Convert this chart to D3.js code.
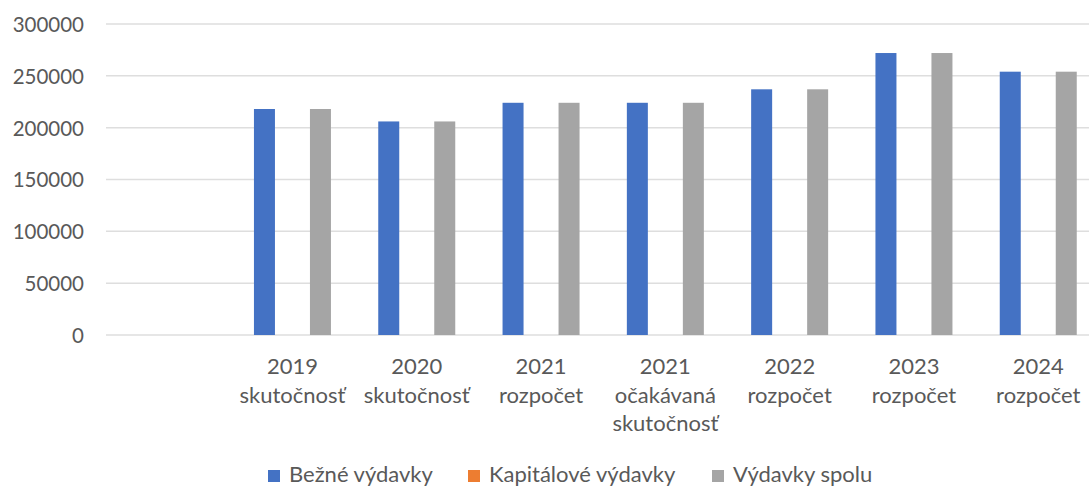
<!DOCTYPE html>
<html>
<head>
<meta charset="utf-8">
<script src="https://cdn.jsdelivr.net/npm/d3@7"></script>
<style>
    body { margin: 0; background: #fff; }
    text { font-family: Lato, "Open Sans", sans-serif; fill: #595959; }
</style>
</head>
<body>
<div id="chart"></div>
<script>
    /**
     * DATA
     * */
    const categories = [
        [""],
        ["2019", "skutočnosť"],
        ["2020", "skutočnosť"],
        ["2021", "rozpočet"],
        ["2021", "očakávaná", "skutočnosť"],
        ["2022", "rozpočet"],
        ["2023", "rozpočet"],
        ["2024", "rozpočet"]
    ];
    const seriesNames = ["Bežné výdavky", "Kapitálové výdavky", "Výdavky spolu"];
    const bezneVydavky = [null, 218000, 206000, 224000, 224000, 237000, 272000, 254000];
    const kapitaloveVydavky = [null, 0, 0, 0, 0, 0, 0, 0];
    const vydavkySpolu = [null, 218000, 206000, 224000, 224000, 237000, 272000, 254000];
    const yTicks = [0, 50000, 100000, 150000, 200000, 250000, 300000];

    /**
     * CONSTANTS AND GLOBALS
     * */
    const width = 1089, height = 488,
        margin = { top: 24, left: 106, bottom: 153 },
        step = 124.3,
        colors = ["#4472C4", "#ED7D31", "#A5A5A5"];

    const seriesValues = [bezneVydavky, kapitaloveVydavky, vydavkySpolu];

    const svg = d3.select("#chart")
        .append("svg")
        .attr("width", width)
        .attr("height", height);

    //Scales
    const xscale = d3.scaleBand()
        .domain(d3.range(categories.length))
        .range([margin.left, margin.left + step * categories.length])
        .padding(0);

    const bw = xscale.bandwidth();
    const xsub = d3.scaleBand()
        .domain(seriesNames)
        .range([bw / 2 - 42, bw / 2 + 42])
        .paddingInner(0.25)
        .paddingOuter(0.125);

    const yscale = d3.scaleLinear()
        .domain([0, 300000])
        .range([height - margin.bottom, margin.top]);

    //gridlines
    svg.append("g")
        .attr("class", "grid")
        .selectAll("line")
        .data(yTicks)
        .join("line")
        .attr("x1", margin.left)
        .attr("x2", width)
        .attr("y1", d => yscale(d))
        .attr("y2", d => yscale(d))
        .attr("stroke", "#DEDEDE")
        .attr("stroke-width", 1.5);

    //y axis
    const yaxis = d3.axisLeft(yscale)
        .tickValues(yTicks)
        .tickFormat(d3.format("d"))
        .tickSize(0)
        .tickPadding(0);
    svg.append("g")
        .attr("class", "axis y_axis")
        .attr("transform", `translate(84, 0)`)
        .call(yaxis)
        .call(g => g.select(".domain").remove())
        .selectAll("text")
        .attr("font-size", "20.5px")
        .attr("font-family", "Lato")
        .attr("fill", "#595959")
        .attr("dy", "0.36em");

    //bars
    const groups = svg.append("g")
        .selectAll("g.cat")
        .data(categories.map((c, i) => i))
        .join("g")
        .attr("class", "cat")
        .attr("transform", i => `translate(${xscale(i)}, 0)`);

    groups.selectAll("rect")
        .data(i => seriesNames.map((s, k) => ({ series: s, k: k, value: seriesValues[k][i] })))
        .join("rect")
        .filter(d => d.value !== null && d.value > 0)
        .attr("x", d => xsub(d.series))
        .attr("width", xsub.bandwidth())
        .attr("y", d => yscale(d.value))
        .attr("height", d => yscale(0) - yscale(d.value))
        .attr("fill", d => colors[d.k]);

    //x labels
    const labels = svg.append("g")
        .attr("class", "axis x_axis")
        .selectAll("text")
        .data(categories)
        .join("text")
        .attr("text-anchor", "middle")
        .attr("font-size", "22px")
        .attr("x", (d, i) => xscale(i) + bw / 2)
        .attr("y", 374);
    labels.selectAll("tspan")
        .data(d => d)
        .join("tspan")
        .attr("x", function () { return d3.select(this.parentNode).attr("x"); })
        .attr("dy", (d, j) => j === 0 ? 0 : 28.5)
        .text(d => d);

    //legend
    const legendX = [268, 468, 712];
    const legend = svg.append("g")
        .attr("class", "legend")
        .selectAll("g")
        .data(seriesNames)
        .join("g")
        .attr("transform", (d, i) => `translate(${legendX[i]}, 470)`);
    legend.append("rect")
        .attr("width", 12)
        .attr("height", 12)
        .attr("fill", (d, i) => colors[i]);
    legend.append("text")
        .attr("x", 21)
        .attr("y", 12)
        .attr("font-size", "22px")
        .text(d => d);
</script>
</body>
</html>
